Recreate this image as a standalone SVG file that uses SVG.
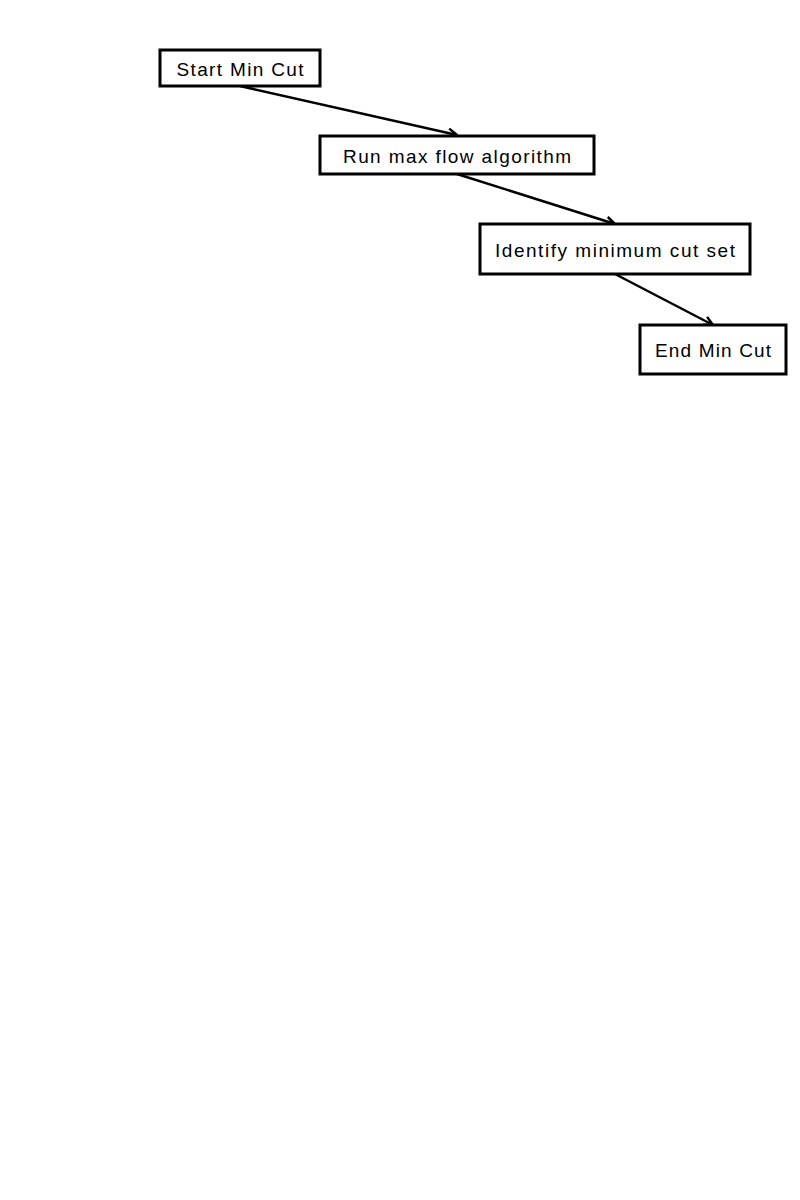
<svg xmlns="http://www.w3.org/2000/svg" width="800" height="1200" viewBox="0 0 800 1200">
  <style>
    .box { fill: #ffffff; stroke: #000000; stroke-width: 3; }
    .label { font-family: "Liberation Sans", Arial, sans-serif; font-size: 19px; font-weight: 300; fill: #000000; text-anchor: middle; }
    .edge { fill: none; stroke: #000000; stroke-width: 2.5; marker-end: url(#arrow); }
  </style>
  <defs>
    <marker id="arrow" viewBox="0 0 10 10" refX="9" refY="5" markerWidth="4.5" markerHeight="4.5" orient="auto" markerUnits="strokeWidth">
      <path d="M1,1 L9,5 L1,9" fill="none" stroke="#000000" stroke-width="2.2"/>
    </marker>
  </defs>
  <rect width="800" height="1200" fill="#ffffff"/>

  <g id="connectors">
    <line class="edge" x1="240" y1="86" x2="457" y2="135"/>
    <line class="edge" x1="457" y1="174" x2="615" y2="224"/>
    <line class="edge" x1="615" y1="274" x2="713" y2="325"/>
  </g>

  <g id="start">
    <rect class="box" x="160" y="50" width="160" height="36"/>
    <text class="label" x="240" y="76" textLength="127" lengthAdjust="spacing">Start Min Cut</text>
  </g>

  <g id="maxflow">
    <rect class="box" x="320" y="136" width="274" height="38"/>
    <text class="label" x="457" y="163" textLength="228" lengthAdjust="spacing">Run max flow algorithm</text>
  </g>

  <g id="cutset">
    <rect class="box" x="480" y="224" width="270" height="50"/>
    <text class="label" x="615" y="257" textLength="240" lengthAdjust="spacing">Identify minimum cut set</text>
  </g>

  <g id="end">
    <rect class="box" x="640" y="325" width="146" height="49"/>
    <text class="label" x="713" y="357" textLength="116" lengthAdjust="spacing">End Min Cut</text>
  </g>
</svg>
